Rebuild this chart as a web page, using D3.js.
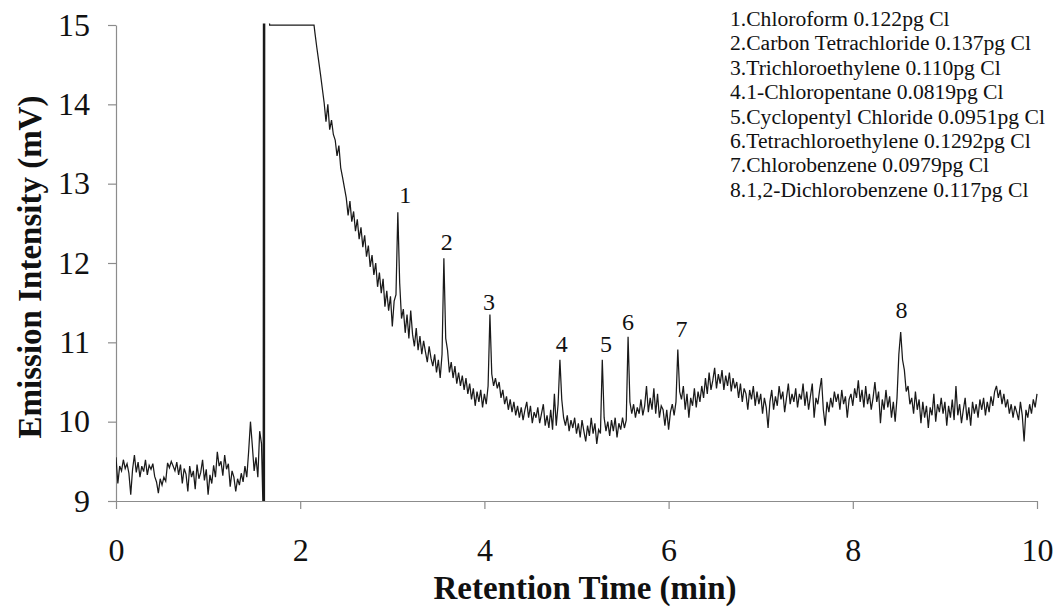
<!DOCTYPE html>
<html>
<head>
<meta charset="utf-8">
<script src="https://cdn.jsdelivr.net/npm/d3@7"></script>
<style>
  html, body { margin: 0; padding: 0; background: #fff; }
  svg { display: block; }
</style>
</head>
<body>
<svg id="chart" width="1056" height="609"></svg>
<script>
// Chromatogram: emission intensity (mV) vs retention time (min), sampled every 0.02 min
const sampleStep = 0.02;

// Baseline before injection, 0.00 – 1.58 min
const preStart = 0.00;
const preValues = [
  9.55, 9.22, 9.44, 9.38, 9.52, 9.41, 9.47, 9.35, 9.08, 9.40,
  9.58, 9.36, 9.49, 9.30, 9.44, 9.37, 9.52, 9.33, 9.45, 9.40,
  9.47, 9.31, 9.24, 9.10, 9.28, 9.20, 9.30, 9.25, 9.48, 9.42,
  9.50, 9.44, 9.38, 9.49, 9.33, 9.46, 9.22, 9.41, 9.34, 9.12,
  9.44, 9.30, 9.38, 9.15, 9.46, 9.28, 9.36, 9.52, 9.26, 9.40,
  9.08, 9.33, 9.22, 9.45, 9.30, 9.62, 9.44, 9.50, 9.32, 9.58,
  9.40, 9.47, 9.18, 9.38, 9.30, 9.12, 9.28, 9.20, 9.35, 9.24,
  9.44, 9.30, 9.62, 10.00, 9.70, 9.38, 9.55, 9.30, 9.88, 9.72
];

// Solvent front: detector swings off scale, then saturates at 15 mV
const injTimes  = [1.598, 1.601, 1.612, 1.615, 1.645, 1.668, 2.15];
const injValues = [8.8,   15.6,  8.8,   15.6,  15.6,  15.0,  15.0];

// Signal after the solvent front, 2.16 – 10.00 min
const postStart = 2.16;
const postValues = [
  14.90, 14.72, 14.55, 14.38, 14.20, 14.02, 13.78, 14.00, 13.68, 13.80,
  13.62, 13.55, 13.35, 13.48, 13.20, 13.08, 12.95, 12.82, 12.60, 12.78,
  12.52, 12.65, 12.40, 12.55, 12.30, 12.45, 12.20, 12.35, 12.08, 12.22,
  11.95, 12.10, 11.85, 12.00, 11.70, 11.88, 11.62, 11.80, 11.45, 11.65,
  11.40, 11.58, 11.20, 11.52, 11.60, 12.64, 11.75, 11.30, 11.42, 11.12,
  11.35, 11.05, 11.40, 11.10, 10.95, 11.18, 10.90, 11.08, 10.85, 11.02,
  10.88, 10.75, 10.95, 10.80, 10.70, 10.85, 10.62, 10.78, 10.55, 10.85,
  12.06, 11.05, 10.90, 10.62, 10.75, 10.55, 10.70, 10.48, 10.62, 10.45,
  10.58, 10.40, 10.55, 10.35, 10.48, 10.28, 10.42, 10.20, 10.38, 10.25,
  10.40, 10.18, 10.35, 10.22, 10.45, 11.35, 10.60, 10.45, 10.55, 10.42,
  10.50, 10.30, 10.40, 10.22, 10.32, 10.15, 10.28, 10.12, 10.25, 10.08,
  10.20, 10.05, 10.18, 10.02, 10.15, 10.25, 10.05, 10.20, 9.98, 10.12,
  10.05, 10.18, 9.98, 10.10, 10.22, 9.95, 10.08, 9.92, 10.15, 9.90,
  10.35, 9.95, 10.22, 10.78, 10.28, 10.05, 9.95, 10.08, 9.88, 10.02,
  9.92, 10.05, 9.85, 9.98, 9.80, 10.02, 9.88, 9.75, 9.95, 9.82,
  10.05, 9.85, 9.98, 9.72, 9.90, 9.85, 10.78, 10.05, 9.88, 10.00,
  9.82, 10.02, 9.88, 10.05, 9.80, 9.98, 9.90, 10.05, 9.92, 10.02,
  11.07, 10.25, 10.10, 10.22, 10.05, 10.18, 10.10, 10.28, 10.08, 10.20,
  10.45, 10.12, 10.30, 10.15, 10.42, 10.10, 10.35, 10.05, 10.20, 10.15,
  9.95, 10.15, 9.90, 10.12, 10.22, 10.08, 10.25, 10.91, 10.38, 10.28,
  10.45, 10.15, 10.35, 10.05, 10.30, 10.20, 10.42, 10.18, 10.38, 10.25,
  10.45, 10.30, 10.55, 10.35, 10.62, 10.40, 10.52, 10.68, 10.42, 10.60,
  10.48, 10.65, 10.40, 10.58, 10.45, 10.62, 10.38, 10.55, 10.42, 10.50,
  10.30, 10.48, 10.25, 10.42, 10.35, 10.15, 10.40, 10.28, 10.45, 10.20,
  10.38, 10.22, 10.35, 10.10, 10.30, 10.18, 9.92, 10.25, 10.40, 10.15,
  10.32, 10.20, 10.45, 10.28, 10.38, 10.12, 10.30, 10.48, 10.22, 10.35,
  10.25, 10.42, 10.18, 10.35, 10.28, 10.48, 10.20, 10.38, 10.15, 10.32,
  10.48, 10.05, 10.30, 10.22, 10.40, 10.55, 10.15, 9.95, 10.25, 10.12,
  10.30, 10.18, 10.38, 10.25, 10.35, 10.15, 10.40, 10.22, 10.32, 10.05,
  10.28, 10.35, 10.20, 10.42, 10.30, 10.52, 10.25, 10.40, 10.18, 10.45,
  10.22, 10.35, 10.15, 10.30, 10.50, 10.25, 10.38, 9.98, 10.28, 10.15,
  10.40, 10.18, 10.32, 10.05, 10.25, 10.00, 10.30, 10.85, 11.13, 10.78,
  10.65, 10.38, 10.45, 10.22, 10.30, 10.10, 10.38, 10.15, 10.28, 9.98,
  10.25, 10.05, 10.20, 9.92, 10.18, 10.08, 10.35, 10.00, 10.22, 10.12,
  10.30, 10.10, 10.25, 9.95, 10.20, 10.05, 10.28, 10.02, 10.45, 10.08,
  10.22, 9.98, 10.15, 10.30, 10.02, 10.18, 9.95, 10.25, 10.10, 10.22,
  10.05, 10.28, 10.15, 10.30, 10.08, 10.25, 10.12, 10.32, 10.20, 10.38,
  10.45, 10.30, 10.40, 10.22, 10.35, 10.18, 10.28, 10.10, 10.22, 10.05,
  10.20, 10.12, 10.02, 10.25, 10.08, 9.75, 10.15, 10.05, 10.22, 10.10,
  10.28, 10.18, 10.35
];

// Numbered peak annotations (position of each number, in data units)
const peakNumbers     = ["1", "2", "3", "4", "5", "6", "7", "8"];
const peakLabelTimes  = [3.14, 3.59, 4.05, 4.84, 5.32, 5.56, 6.14, 8.53];
const peakLabelValues = [12.76, 12.17, 11.41, 10.88, 10.88, 11.16, 11.07, 11.31];

// Compound list
const legendLines = [
  "1.Chloroform 0.122pg Cl",
  "2.Carbon Tetrachloride 0.137pg Cl",
  "3.Trichloroethylene 0.110pg Cl",
  "4.1-Chloropentane 0.0819pg Cl",
  "5.Cyclopentyl Chloride 0.0951pg Cl",
  "6.Tetrachloroethylene 0.1292pg Cl",
  "7.Chlorobenzene 0.0979pg Cl",
  "8.1,2-Dichlorobenzene 0.117pg Cl"
];

const xTicks = [0, 2, 4, 6, 8, 10];
const yTicks = [9, 10, 11, 12, 13, 14, 15];
const xTitle = "Retention Time (min)";
const yTitle = "Emission Intensity (mV)";

// ---- layout ----
const serif = "'Liberation Serif', 'Times New Roman', Times, serif";
const plot = { left: 116, right: 1037, top: 25, bottom: 501 };

const svg = d3.select("#chart");
const x = d3.scaleLinear().domain([0, 10]).range([plot.left, plot.right]);
const y = d3.scaleLinear().domain([9, 15]).range([plot.bottom, plot.top]);

// assemble the trace
const trace = []
  .concat(preValues.map((v, i) => [preStart + i * sampleStep, v]))
  .concat(injTimes.map((t, i) => [t, injValues[i]]))
  .concat(postValues.map((v, i) => [postStart + i * sampleStep, v]));

svg.append("defs").append("clipPath").attr("id", "plotClip")
  .append("rect")
  .attr("x", plot.left).attr("y", plot.top - 1.5)
  .attr("width", plot.right - plot.left + 2)
  .attr("height", plot.bottom - plot.top + 1.5);

// axes
const axisColor = "#8c8c8c";
const intFmt = d3.format("d");
const xAxis = svg.append("g")
  .attr("transform", `translate(0,${plot.bottom})`)
  .call(d3.axisBottom(x).tickValues(xTicks).tickFormat(intFmt)
    .tickSize(8).tickSizeOuter(0).tickPadding(29));
const yAxis = svg.append("g")
  .attr("transform", `translate(${plot.left},0)`)
  .call(d3.axisLeft(y).tickValues(yTicks).tickFormat(intFmt)
    .tickSize(8).tickSizeOuter(0).tickPadding(18));

[xAxis, yAxis].forEach(g => {
  g.select(".domain").attr("stroke", axisColor).attr("stroke-width", 1.2);
  g.selectAll(".tick line").attr("stroke", axisColor).attr("stroke-width", 1.2);
  g.selectAll(".tick text")
    .attr("fill", "#111")
    .style("font-family", serif)
    .style("font-size", "32px");
});

// trace
const line = d3.line().x(d => x(d[0])).y(d => y(d[1]));
svg.append("path")
  .datum(trace)
  .attr("clip-path", "url(#plotClip)")
  .attr("fill", "none")
  .attr("stroke", "#1a1a1a")
  .attr("stroke-width", 1.25)
  .attr("stroke-linejoin", "miter")
  .attr("d", line);

// peak numbers
svg.append("g").selectAll("text")
  .data(peakNumbers)
  .join("text")
  .attr("x", (d, i) => x(peakLabelTimes[i]))
  .attr("y", (d, i) => y(peakLabelValues[i]))
  .attr("text-anchor", "middle")
  .attr("fill", "#111")
  .style("font-family", serif)
  .style("font-size", "24px")
  .text(d => d);

// compound list
svg.append("g").selectAll("text")
  .data(legendLines)
  .join("text")
  .attr("x", 730)
  .attr("y", (d, i) => 26 + i * 24.4)
  .attr("fill", "#111")
  .style("font-family", serif)
  .style("font-size", "21.6px")
  .text(d => d);

// axis titles
svg.append("text")
  .attr("x", 585).attr("y", 599)
  .attr("text-anchor", "middle")
  .attr("fill", "#111")
  .style("font-family", serif)
  .style("font-size", "33px")
  .style("font-weight", "bold")
  .text(xTitle);

svg.append("text")
  .attr("transform", `translate(41,${(plot.top + plot.bottom) / 2 + 4}) rotate(-90)`)
  .attr("text-anchor", "middle")
  .attr("fill", "#111")
  .style("font-family", serif)
  .style("font-size", "33px")
  .style("font-weight", "bold")
  .text(yTitle);
</script>
</body>
</html>
